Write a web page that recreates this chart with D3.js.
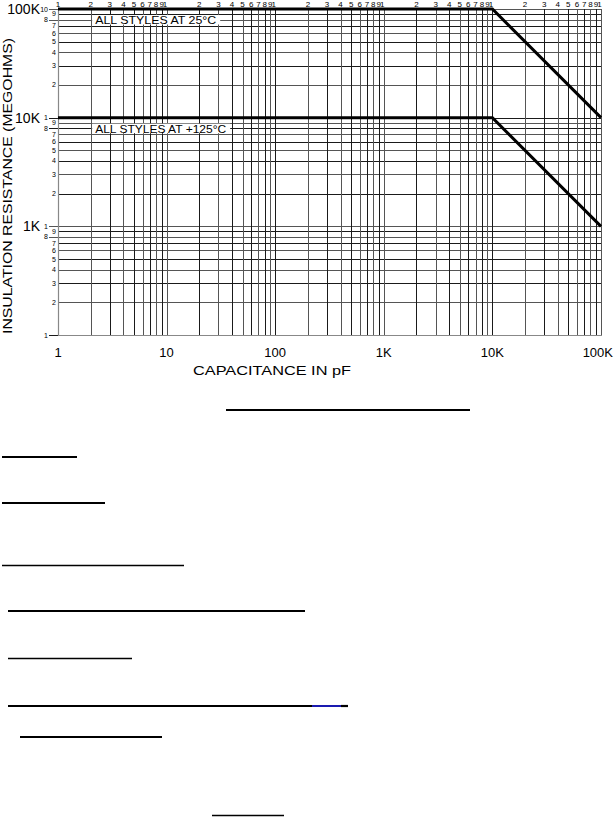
<!DOCTYPE html>
<html>
<head>
<meta charset="utf-8">
<script src="https://cdn.jsdelivr.net/npm/d3@7"></script>
<style>
html,body{margin:0;padding:0;background:#fff;}
svg{display:block;}
text{font-family:"Liberation Sans","DejaVu Sans",sans-serif;fill:#000;}
</style>
</head>
<body>
<svg id="chart" width="614" height="819"></svg>
<script>
// ---- data ----
const xDecades = [1, 10, 100, 1000, 10000, 100000];
const xTickLabels = ["1", "10", "100", "1K", "10K", "100K"];
const yDecades = [100, 1000, 10000, 100000];
const yTickLabels = ["", "1K", "10K", "100K"];
const cycleDigits = [1, 2, 3, 4, 5, 6, 7, 8, 9];
const seriesNames = ["ALL STYLES AT 25°C", "ALL STYLES AT +125°C"];
const seriesCap = [1, 10000, 100000];           // pF
const series25 = [100000, 100000, 10000];       // megohms
const series125 = [10000, 10000, 1000];         // megohms
const xTitle = "CAPACITANCE IN pF";
const yTitle = "INSULATION RESISTANCE (MEGOHMS)";

// ---- layout ----
const svg = d3.select("#chart");
const L = 58, R = 601, T = 9, B = 335;
const x = d3.scaleLog().domain([1, 100000]).range([L, R]);
const y = d3.scaleLog().domain([100, 100000]).range([B, T]);

// grid values
const xGrid = [];
xDecades.slice(0, -1).forEach(d => cycleDigits.forEach(k => xGrid.push({v: d * k, k})));
xGrid.push({v: 100000, k: 1});
const yGrid = [];
yDecades.slice(0, -1).forEach(d => cycleDigits.forEach(k => yGrid.push({v: d * k, k})));
yGrid.push({v: 100000, k: 10});

const g = svg.append("g");

// horizontal grid
g.selectAll("line.h").data(yGrid).join("line")
  .attr("x1", d => (d.k === 8 || d.k === 1 || d.k === 10) ? 49 : L)
  .attr("x2", R)
  .attr("y1", d => Math.round(y(d.v)) + 0.5)
  .attr("y2", d => Math.round(y(d.v)) + 0.5)
  .attr("stroke", (d, i) => (i % 2 ? "#555" : "#1a1a1a"))
  .attr("stroke-width", 1);

// vertical grid
g.selectAll("line.v").data(xGrid).join("line")
  .attr("y1", T).attr("y2", B)
  .attr("x1", d => Math.round(x(d.v)) + 0.5)
  .attr("x2", d => Math.round(x(d.v)) + 0.5)
  .attr("stroke", (d, i) => (i % 2 ? "#555" : "#1a1a1a"))
  .attr("stroke-width", 1);

// frame edges (lighter)
g.append("line").attr("x1", L + 0.5).attr("x2", L + 0.5).attr("y1", T).attr("y2", B + 0.5)
  .attr("stroke", "#888").attr("stroke-width", 1.2);
g.append("line").attr("x1", L).attr("x2", R + 1).attr("y1", B + 0.5).attr("y2", B + 0.5)
  .attr("stroke", "#888").attr("stroke-width", 1.2);

// series labels with white backgrounds
const labelCap = 2.2;
const labelRes = [80000, 8000];
const labelWidths = [121, 131];
seriesNames.forEach((name, i) => {
  const ty = y(labelRes[i]);
  const tx = x(labelCap);
  svg.append("rect").attr("x", tx - 3).attr("y", ty - 4.5)
    .attr("width", labelWidths[i] + 7).attr("height", 9.5).attr("fill", "#fff");
  svg.append("text").attr("x", tx).attr("y", ty + 4.5)
    .attr("font-size", 11).attr("textLength", labelWidths[i])
    .attr("lengthAdjust", "spacingAndGlyphs").text(name);
});

// curves
const line = d3.line().x(d => x(d[0])).y(d => y(d[1]));
[series25, series125].forEach(s => {
  svg.append("path").datum(seriesCap.map((c, i) => [c, s[i]]))
    .attr("d", line).attr("fill", "none").attr("stroke", "#000")
    .attr("stroke-width", 3).attr("stroke-linejoin", "miter");
});

// top cycle digits
svg.selectAll("text.top").data(xGrid).join("text")
  .attr("x", d => x(d.v) + (d.k === 1 && d.v > 1 ? -1.5 : 0))
  .attr("y", 7)
  .attr("text-anchor", "middle")
  .attr("font-family", "DejaVu Sans")
  .attr("font-size", 8)
  .text(d => d.k);

// left cycle digits
svg.selectAll("text.left").data(yGrid).join("text")
  .attr("x", d => (d.k === 10) ? 48 : (d.k === 1 || d.k === 8) ? 48 : 56)
  .attr("y", d => y(d.v) + 2.5)
  .attr("text-anchor", "end")
  .attr("font-family", "DejaVu Sans")
  .attr("font-size", 7)
  .text(d => d.k);

// y decade labels
svg.selectAll("text.yl").data(yDecades).join("text")
  .attr("x", 40)
  .attr("y", d => y(d) + 5)
  .attr("text-anchor", "end")
  .attr("font-size", 14)
  .text((d, i) => yTickLabels[i]);

// x decade labels
svg.selectAll("text.xl").data(xDecades).join("text")
  .attr("x", (d, i) => i === xDecades.length - 1 ? 613 : x(d))
  .attr("y", 357)
  .attr("text-anchor", (d, i) => i === xDecades.length - 1 ? "end" : "middle")
  .attr("font-size", 13)
  .text((d, i) => xTickLabels[i]);

// axis titles
svg.append("text").attr("x", 193).attr("y", 375)
  .attr("font-size", 13).attr("textLength", 158).attr("lengthAdjust", "spacingAndGlyphs")
  .text(xTitle);
svg.append("text").attr("transform", "translate(12,186) rotate(-90)")
  .attr("text-anchor", "middle")
  .attr("font-size", 13.5).attr("textLength", 296).attr("lengthAdjust", "spacingAndGlyphs")
  .text(yTitle);

// page underline rules below the chart
const rules = [
  [226, 470, 410, 2.2], [2, 77, 457, 2.2], [2, 105, 503, 2.2], [2, 184, 565.5, 1.3],
  [8, 305, 611, 2.2], [8, 132, 658.5, 1.3], [8, 312, 706, 2.2], [20, 162, 737, 2.2],
  [212, 284, 815.5, 1.3]
];
rules.forEach(r => svg.append("line").attr("x1", r[0]).attr("x2", r[1])
  .attr("y1", r[2]).attr("y2", r[2]).attr("stroke", "#000").attr("stroke-width", r[3]));
svg.append("line").attr("x1", 312).attr("x2", 341).attr("y1", 706).attr("y2", 706)
  .attr("stroke", "#1a1ab0").attr("stroke-width", 2);
svg.append("line").attr("x1", 341).attr("x2", 348).attr("y1", 706).attr("y2", 706)
  .attr("stroke", "#000").attr("stroke-width", 2.2);
</script>
</body>
</html>
